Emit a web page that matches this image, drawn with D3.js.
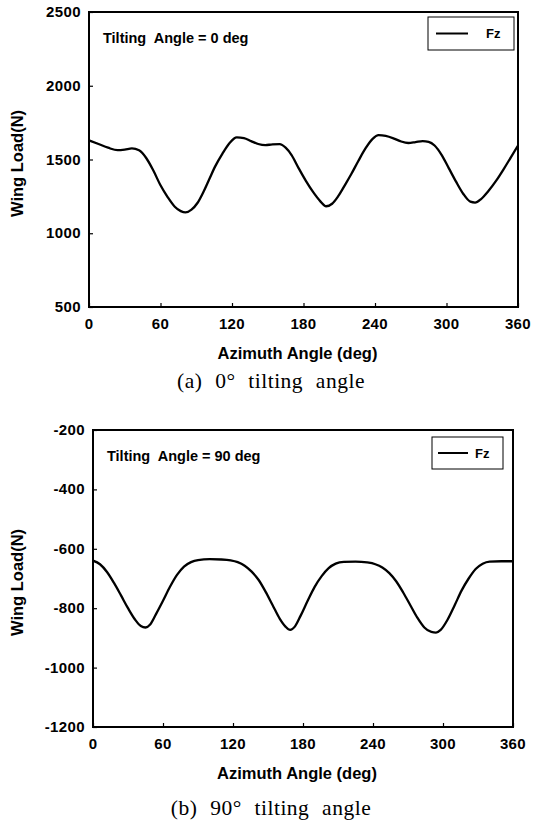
<!DOCTYPE html>
<html>
<head>
<meta charset="utf-8">
<script src="https://cdn.jsdelivr.net/npm/d3@7"></script>
<style>
  html, body { margin: 0; padding: 0; background: #fff; }
  svg { display: block; }
  .tick-label { font-family: "Liberation Sans", Arial, sans-serif; font-weight: bold; font-size: 15px; letter-spacing: 0.4px; fill: #000; }
  .axis-title { font-family: "Liberation Sans", Arial, sans-serif; font-weight: bold; font-size: 16.5px; fill: #000; }
  .note { font-family: "Liberation Sans", Arial, sans-serif; font-weight: bold; font-size: 14.5px; fill: #000; white-space: pre; }
  .legend-text { font-family: "Liberation Sans", Arial, sans-serif; font-weight: bold; font-size: 13px; fill: #000; }
  .caption { font-family: "Liberation Serif", "DejaVu Serif", serif; font-size: 21.5px; letter-spacing: 0.5px; word-spacing: 0.5px; fill: #000; white-space: pre; }
</style>
</head>
<body>
<svg id="chart" width="539" height="822"></svg>
<script>
// ---------------- DATA ----------------
const xTicks = [0, 60, 120, 180, 240, 300, 360];

// Panel (a): tilting angle 0 deg
const anglesA = [0, 8, 16, 24, 30, 36, 42, 48, 54, 60, 66, 72, 77, 81, 86, 91, 96, 101, 106, 112, 118, 124, 130, 136, 142, 148, 154, 160, 165, 170, 176, 182, 188, 194, 199, 204, 209, 215, 220, 226, 232, 238, 243, 249, 256, 262, 268, 274, 280, 285, 290, 296, 302, 308, 314, 320, 324, 329, 335, 342, 348, 354, 360];
const fzA =     [1630, 1605, 1580, 1563, 1567, 1575, 1562, 1510, 1425, 1325, 1245, 1180, 1150, 1141, 1160, 1205, 1280, 1368, 1455, 1540, 1612, 1650, 1645, 1625, 1605, 1597, 1603, 1604, 1580, 1530, 1440, 1355, 1280, 1218, 1183, 1200, 1250, 1330, 1400, 1490, 1575, 1640, 1665, 1660, 1642, 1622, 1612, 1618, 1625, 1620, 1595, 1530, 1440, 1350, 1268, 1214, 1208, 1232, 1285, 1360, 1435, 1515, 1595];
const yTicksA = [500, 1000, 1500, 2000, 2500];

// Panel (b): tilting angle 90 deg
const anglesB = [0, 6, 12, 18, 24, 30, 36, 41, 45, 49, 54, 60, 66, 72, 78, 84, 90, 100, 110, 118, 124, 130, 136, 142, 148, 154, 160, 165, 169, 173, 178, 184, 190, 196, 202, 208, 215, 225, 235, 242, 248, 254, 260, 266, 272, 278, 284, 290, 294, 298, 304, 310, 316, 322, 328, 334, 340, 350, 360];
const fzB =     [-640, -652, -678, -715, -757, -800, -838, -860, -865, -855, -820, -775, -728, -688, -660, -645, -638, -635, -636, -639, -645, -657, -677, -705, -745, -790, -835, -862, -873, -862, -825, -775, -728, -692, -665, -650, -644, -643, -646, -652, -663, -682, -710, -748, -790, -832, -865, -880, -882, -873, -838, -790, -740, -700, -668, -650, -643, -642, -642];
const yTicksB = [-1200, -1000, -800, -600, -400, -200];

const seriesName = "Fz";
const xTitle = "Azimuth Angle (deg)";
const yTitle = "Wing Load(N)";

// ---------------- DRAW ----------------
const svg = d3.select("#chart");

function panel(cfg) {
  const g = svg.append("g");
  const x = d3.scaleLinear().domain([0, 360]).range([cfg.left, cfg.right]);
  const y = d3.scaleLinear().domain(cfg.yDomain).range([cfg.bottom, cfg.top]);

  // inward ticks via d3 axes
  const xAxis = d3.axisTop(x).tickValues(xTicks).tickSize(4).tickFormat("");
  g.append("g").attr("transform", `translate(0,${cfg.bottom})`).call(xAxis)
    .call(s => s.select(".domain").remove())
    .call(s => s.selectAll("line").attr("stroke", "#000").attr("stroke-width", 1.2));
  const yAxis = d3.axisRight(y).tickValues(cfg.yTicks).tickSize(4).tickFormat("");
  g.append("g").attr("transform", `translate(${cfg.left},0)`).call(yAxis)
    .call(s => s.select(".domain").remove())
    .call(s => s.selectAll("line").attr("stroke", "#000").attr("stroke-width", 1.2));

  // tick labels
  g.selectAll(".xl").data(xTicks).join("text")
    .attr("class", "tick-label")
    .attr("x", d => x(d)).attr("y", cfg.bottom + 22)
    .attr("text-anchor", "middle")
    .text(d => d);
  g.selectAll(".yl").data(cfg.yTicks).join("text")
    .attr("class", "tick-label")
    .attr("x", cfg.left - 8).attr("y", d => y(d) + 5)
    .attr("text-anchor", "end")
    .text(d => d);

  // line
  const pts = cfg.angles.map((a, i) => [a, cfg.values[i]]);
  const line = d3.line().x(d => x(d[0])).y(d => y(d[1])).curve(d3.curveMonotoneX);
  g.append("path").datum(pts)
    .attr("d", line)
    .attr("fill", "none").attr("stroke", "#000").attr("stroke-width", 2.3)
    .attr("stroke-linejoin", "round");

  // frame
  g.append("rect")
    .attr("x", cfg.left).attr("y", cfg.top)
    .attr("width", cfg.right - cfg.left).attr("height", cfg.bottom - cfg.top)
    .attr("fill", "none").attr("stroke", "#000").attr("stroke-width", 2);

  // annotation
  g.append("text").attr("class", "note")
    .attr("x", cfg.left + 14).attr("y", cfg.top + 31)
    .text(cfg.note);

  // legend
  const lg = cfg.legend;
  g.append("rect").attr("x", lg.x).attr("y", lg.y).attr("width", lg.w).attr("height", lg.h)
    .attr("fill", "#fff").attr("stroke", "#000").attr("stroke-width", 1);
  g.append("line").attr("x1", lg.lx1).attr("x2", lg.lx2).attr("y1", lg.y + lg.h / 2).attr("y2", lg.y + lg.h / 2)
    .attr("stroke", "#000").attr("stroke-width", 2);
  g.append("text").attr("class", "legend-text").attr("x", lg.tx).attr("y", lg.y + lg.h / 2 + 4.5)
    .text(seriesName);

  // axis titles
  g.append("text").attr("class", "axis-title")
    .attr("x", (cfg.left + cfg.right) / 2 - 6).attr("y", cfg.bottom + 52)
    .attr("text-anchor", "middle").text(xTitle);
  g.append("text").attr("class", "axis-title")
    .attr("transform", `translate(23,${(cfg.top + cfg.bottom) / 2 + 4}) rotate(-90)`)
    .attr("text-anchor", "middle").text(yTitle);

  // caption
  g.append("text").attr("class", "caption")
    .attr("x", 271).attr("y", cfg.captionY)
    .attr("text-anchor", "middle")
    .text(cfg.caption);
}

panel({
  left: 89, right: 518, top: 12, bottom: 307,
  yDomain: [500, 2500], yTicks: yTicksA,
  angles: anglesA, values: fzA,
  note: "Tilting  Angle = 0 deg",
  legend: { x: 428, y: 17, w: 86, h: 33, lx1: 436, lx2: 468, tx: 486 },
  caption: "(a)  0°  tilting  angle", captionY: 388
});

panel({
  left: 93, right: 513, top: 430, bottom: 727,
  yDomain: [-1200, -200], yTicks: yTicksB,
  angles: anglesB, values: fzB,
  note: "Tilting  Angle = 90 deg",
  legend: { x: 432, y: 437, w: 71, h: 32, lx1: 438, lx2: 468, tx: 475 },
  caption: "(b)  90°  tilting  angle", captionY: 815
});
</script>
</body>
</html>
